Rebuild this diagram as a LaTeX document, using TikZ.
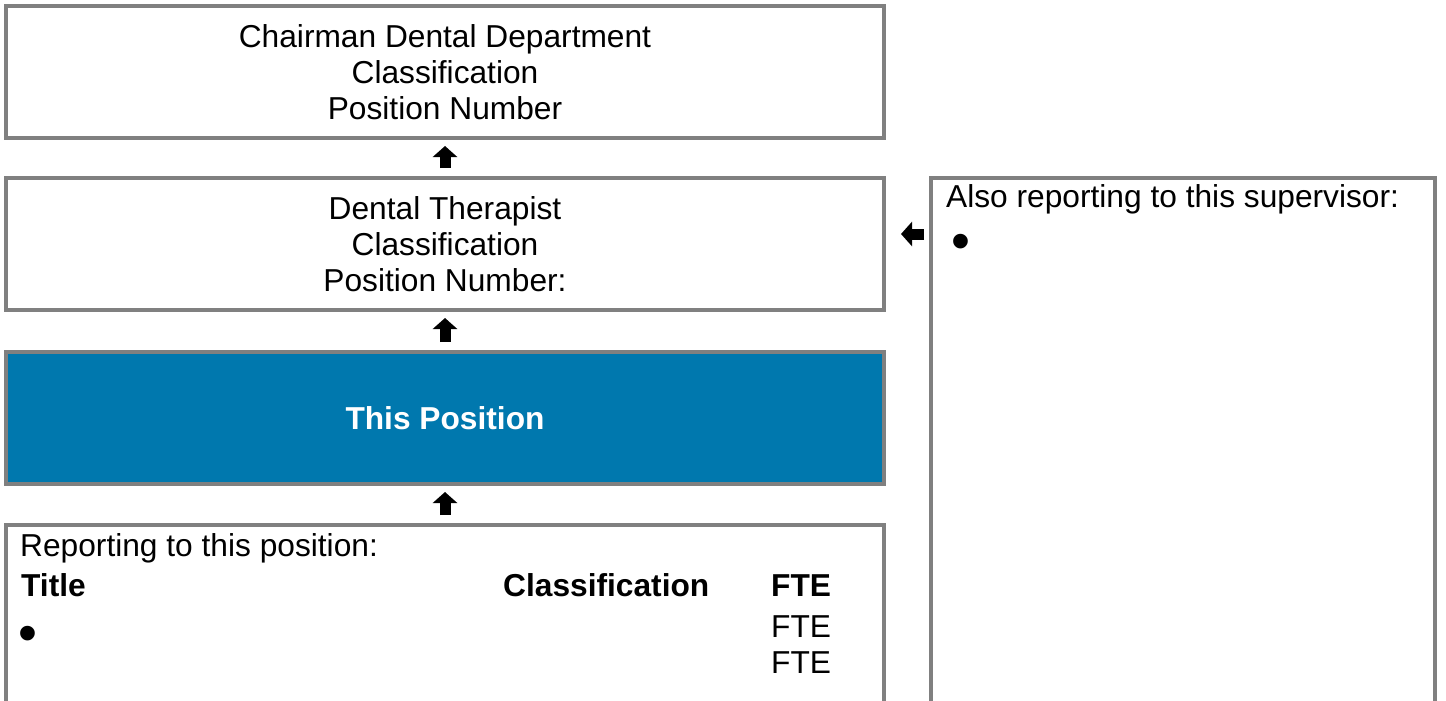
\documentclass[tikz,border=0pt]{standalone}
\usepackage{fontspec}
\setmainfont{Liberation Sans}
\usetikzlibrary{arrows.meta}
\definecolor{bordergray}{RGB}{128,128,128}
\definecolor{posblue}{RGB}{0,120,174}
\begin{document}
\begin{tikzpicture}[x=1pt,y=-1pt,
  box/.style={draw=bordergray, line width=4pt, inner sep=0pt, align=center,
    font=\fontsize{31.7}{36}\selectfont},
  txt/.style={inner sep=0pt, anchor=base west, font=\fontsize{31.7}{36}\selectfont},
  btxt/.style={txt, font=\fontsize{31.7}{36}\selectfont\bfseries},
  bultxt/.style={txt, font=\fontsize{54}{60}\selectfont},
  blockarrow/.style={line width=11pt, -{Triangle[width=24pt,length=11pt]}, black}]
\useasboundingbox (0,0) rectangle (1446,701);
\fill[white] (0,0) rectangle (1446,701);
% boxes
\node[box, minimum width=878pt, minimum height=132pt] (b1) at (445,72)
  {Chairman Dental Department\\Classification\\Position Number};
\node[box, minimum width=878pt, minimum height=132pt] (b2) at (445,244)
  {Dental Therapist\\Classification\\Position Number:};
\node[box, fill=posblue, text=white, font=\fontsize{31.7}{36}\selectfont\bfseries,
  minimum width=878pt, minimum height=132pt] (b3) at (445,418) {This Position};
\node[box, minimum width=878pt, minimum height=273pt] (b4) at (445,661.5) {};
\node[box, minimum width=504pt, minimum height=620pt] (rb) at (1183,488) {};
% texts of lower box
\node[txt] (rep) at (20,556) {Reporting to this position:};
\node[btxt] (ttl) at (21,596) {Title};
\node[btxt] (cls) at (503,596) {Classification};
\node[btxt] (fteh) at (771,596) {FTE};
\node[bultxt] (bul1) at (18.6,651) {•};
\node[txt] (fte1) at (771,637) {FTE};
\node[txt] (fte2) at (771,673) {FTE};
% texts of right box
\node[txt] (also) at (946,207) {Also reporting to this supervisor:};
\node[bultxt] (bul2) at (951.6,259) {•};
% arrows
\coordinate (aL) at (0,234);
\draw[blockarrow, shorten <=8pt, shorten >=6pt] (b2.north) -- (b1.south);
\draw[blockarrow, shorten <=8pt, shorten >=6pt] (b3.north) -- (b2.south);
\draw[blockarrow, shorten <=8pt, shorten >=6pt] (b4.north) -- (b3.south);
\draw[blockarrow, shorten <=5pt, shorten >=15pt] (rb.west |- aL) -- (b2.east |- aL);
\end{tikzpicture}
\end{document}
